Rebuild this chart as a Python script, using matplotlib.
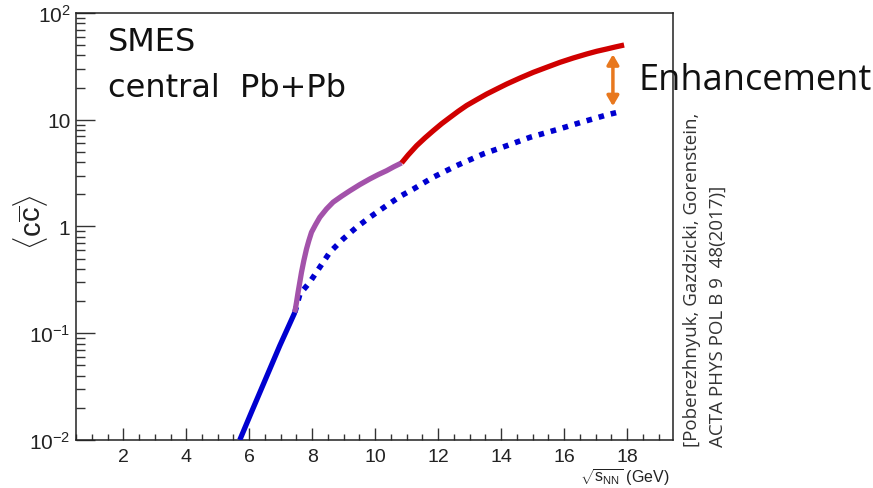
import matplotlib
matplotlib.use('Agg')
import matplotlib.pyplot as plt
from matplotlib.ticker import FixedLocator, LogLocator, NullFormatter, MultipleLocator, FixedFormatter

plt.rcParams['mathtext.fontset'] = 'custom'
plt.rcParams['mathtext.rm'] = 'Liberation Sans'
plt.rcParams['mathtext.it'] = 'Liberation Sans:italic'
plt.rcParams['mathtext.bf'] = 'Liberation Sans:bold'
plt.rcParams['mathtext.sf'] = 'Liberation Sans'

# ---- data ----
low_x = [5.70, 6.07, 6.52, 6.97, 7.45]
low_y = [0.0100, 0.0182, 0.0373, 0.0764, 0.157]

mid_x = [7.448, 7.502, 7.552, 7.606, 7.660, 7.734, 7.819, 7.893, 7.978, 8.106, 8.242,
         8.455, 8.665, 8.932, 9.196, 9.514, 9.832, 10.095, 10.362, 10.595, 10.839]
mid_y = [0.157, 0.195, 0.242, 0.300, 0.372, 0.478, 0.615, 0.736, 0.883, 1.04, 1.22,
         1.46, 1.69, 1.92, 2.16, 2.47, 2.79, 3.06, 3.33, 3.63, 3.94]

high_x = [10.839, 11.049, 11.316, 11.580, 11.844, 12.111, 12.374, 12.638, 12.905, 13.223,
          13.541, 13.859, 14.177, 14.600, 15.022, 15.448, 15.871, 16.294, 16.720, 17.038,
          17.355, 17.619, 17.905]
high_y = [3.94, 4.68, 5.71, 6.75, 7.89, 9.18, 10.5, 12.0, 13.6, 15.4,
          17.4, 19.4, 21.6, 24.6, 27.8, 31.0, 34.5, 37.9, 41.3, 43.8,
          46.0, 48.0, 50.1]

base_x = [7.45, 7.61, 7.92, 8.24, 8.56, 8.98, 9.41, 9.83, 10.36, 10.84, 11.21, 11.84,
          12.59, 13.43, 14.18, 14.92, 15.77, 16.61, 17.36, 17.78]
base_y = [0.157, 0.233, 0.300, 0.415, 0.573, 0.763, 0.984, 1.22, 1.57, 1.95, 2.24, 2.89,
          3.72, 4.78, 5.71, 6.85, 8.07, 9.59, 11.1, 11.9]

arrow_x = 17.55
arrow_y = [13.4, 41.0]

xticks = [2, 4, 6, 8, 10, 12, 14, 16, 18]
yticks = [0.01, 0.1, 1, 10, 100]
ytick_labels = [r'$10^{-2}$', r'$10^{-1}$', '1', '10', r'$10^{2}$']

# ---- figure ----
fig = plt.figure(figsize=(8.73, 4.89), dpi=100)
ax = fig.add_axes([0.0871, 0.0982, 0.7706 - 0.0871, 0.9714 - 0.0982])

BLUE = '#0000d0'
PURPLE = '#a352aa'
RED = '#d00000'
ORANGE = '#e8781e'

ax.plot(base_x, base_y, color=BLUE, lw=4.0, linestyle=(0, (1.0, 1.25)),
        dash_capstyle='butt', solid_capstyle='butt', zorder=2)
ax.plot(low_x, low_y, color=BLUE, lw=3.8, solid_capstyle='butt', zorder=3)
ax.plot(mid_x, mid_y, color=PURPLE, lw=3.8, solid_capstyle='butt',
        solid_joinstyle='round', zorder=3)
ax.plot(high_x, high_y, color=RED, lw=3.8, solid_capstyle='butt',
        solid_joinstyle='round', zorder=3)

ax.annotate('', xy=(arrow_x, arrow_y[0]), xytext=(arrow_x, arrow_y[1]),
            arrowprops=dict(arrowstyle='<|-|>,head_length=0.6,head_width=0.35',
                            color=ORANGE, lw=2.5, shrinkA=0, shrinkB=0), zorder=4)

ax.set_yscale('log')
ax.set_xlim(0.5, 19.45)
ax.set_ylim(0.01, 100)

ax.xaxis.set_major_locator(FixedLocator(xticks))
ax.xaxis.set_minor_locator(MultipleLocator(0.5))
ax.yaxis.set_major_locator(FixedLocator(yticks))
ax.yaxis.set_major_formatter(FixedFormatter(ytick_labels))
ax.yaxis.set_minor_locator(LogLocator(base=10, subs=[2, 3, 4, 5, 6, 7, 8, 9]))
ax.yaxis.set_minor_formatter(NullFormatter())

for lab in ax.get_xticklabels() + ax.get_yticklabels():
    lab.set_fontfamily('Liberation Sans')
ax.tick_params(axis='both', which='both', direction='in', colors='#333333',
               labelcolor='#222222', width=1.0)
ax.tick_params(axis='x', which='major', length=8.6, labelsize=14, pad=6)
ax.tick_params(axis='x', which='minor', length=4.3)
ax.tick_params(axis='y', which='major', length=13.5, labelsize=15, pad=4)
ax.tick_params(axis='y', which='minor', length=6.5)
ax.tick_params(top=False, right=False, which='both')
for s in ax.spines.values():
    s.set_linewidth(1.1)
    s.set_color('#222222')

# texts
fig.text(108 / 873, 1 - 51 / 489, 'SMES', fontsize=23, family='DejaVu Sans',
         color='#111111', va='baseline', ha='left')
fig.text(108 / 873, 1 - 97 / 489, 'central  Pb+Pb', fontsize=23, family='DejaVu Sans',
         color='#111111', va='baseline', ha='left')
fig.text(639 / 873, 1 - 90 / 489, 'Enhancement', fontsize=26, family='Open Sans',
         color='#111111', va='baseline', ha='left')

fig.text(30 / 873, 1 - 222 / 489, r'$\langle\mathrm{c}\overline{\mathrm{c}}\rangle$',
         fontsize=21, rotation=90, ha='center', va='center', color='#222222')
fig.text(670 / 873, 0.5 / 489, r'$\sqrt{\mathrm{s}_{\mathrm{NN}}}$ (GeV)',
         fontsize=11.5, family='Liberation Sans', ha='right', va='bottom', color='#222222')

fig.text(692 / 873, 1 - 447 / 489, '[Poberezhnyuk, Gazdzicki, Gorenstein,',
         fontsize=13.5, family='Open Sans', rotation=90, ha='center', va='bottom',
         color='#333333')
fig.text(718 / 873, 1 - 447 / 489, 'ACTA PHYS POL B 9  48(2017)]',
         fontsize=13.5, family='Open Sans', rotation=90, ha='center', va='bottom',
         color='#333333')

fig.savefig('out.png', dpi=100)
